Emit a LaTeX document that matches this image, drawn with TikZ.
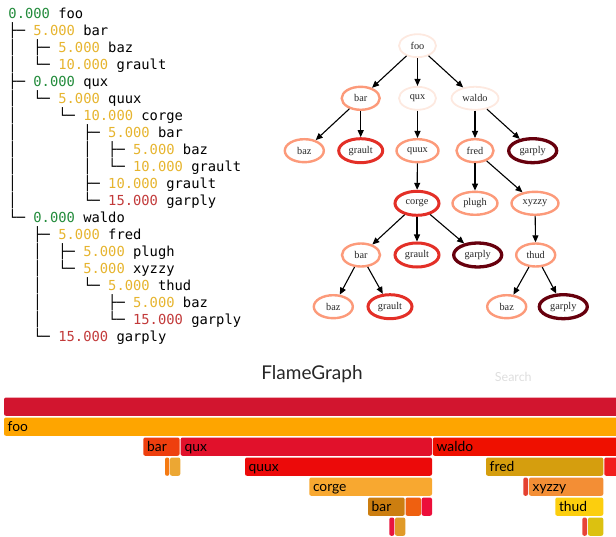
\documentclass[tikz,border=0pt]{standalone}
\usepackage{fontspec}
\usetikzlibrary{shapes.geometric,arrows.meta}
\newfontfamily\monof{DejaVu Sans Mono}
\newfontfamily\gvfont{Liberation Serif}
\newfontfamily\flamef{Lato}
\definecolor{tgreen}{HTML}{228B3B}
\definecolor{tgold}{HTML}{E6B42E}
\definecolor{tred}{HTML}{C23A3A}
\definecolor{gvA}{HTML}{FDE9E0}
\definecolor{gvB}{HTML}{FC9A7A}
\definecolor{gvC}{HTML}{E32F27}
\definecolor{gvD}{HTML}{67000D}
\newcommand\tgr[1]{\textcolor{tgreen}{#1}}
\newcommand\tyl[1]{\textcolor{tgold}{#1}}
\newcommand\trd[1]{\textcolor{tred}{#1}}
\begin{document}
\begin{tikzpicture}[x=1pt,y=-1pt,
  treeline/.style={anchor=base west, inner sep=0pt, font=\monof\fontsize{13.8}{17}\selectfont},
  gv/.style={ellipse, draw, inner sep=0pt, minimum height=23pt, font=\gvfont\fontsize{10.3}{12}\selectfont, text=black!85},
  cz/.style={draw=gvA, line width=1.8pt},
  cf/.style={draw=gvB, line width=2.4pt},
  ct/.style={draw=gvC, line width=3pt, minimum height=24pt},
  cx/.style={draw=gvD, line width=3.3pt, minimum height=24pt},
  edge/.style={-{Triangle[length=7pt,width=6pt]}, line width=1.1pt, black},
  fbar/.style={rounded corners=2pt},
  flab/.style={anchor=base west, inner sep=0pt, font=\flamef\fontsize{13.8}{15}\selectfont, text=black},
]
\useasboundingbox (0,0) rectangle (616,537);

% ---------- text tree ----------
\node[treeline] (t0)  at (8.3,18.5)  {\tgr{0.000}~foo};
\node[treeline] (t1)  at (8.3,35.5)  {├─~\tyl{5.000}~bar};
\node[treeline] (t2)  at (8.3,52.5)  {│~~├─~\tyl{5.000}~baz};
\node[treeline] (t3)  at (8.3,69.5)  {│~~└─~\tyl{10.000}~grault};
\node[treeline] (t4)  at (8.3,86.5)  {├─~\tgr{0.000}~qux};
\node[treeline] (t5)  at (8.3,103.5) {│~~└─~\tyl{5.000}~quux};
\node[treeline] (t6)  at (8.3,120.5) {│~~~~~└─~\tyl{10.000}~corge};
\node[treeline] (t7)  at (8.3,137.5) {│~~~~~~~~├─~\tyl{5.000}~bar};
\node[treeline] (t8)  at (8.3,154.5) {│~~~~~~~~│~~├─~\tyl{5.000}~baz};
\node[treeline] (t9)  at (8.3,171.5) {│~~~~~~~~│~~└─~\tyl{10.000}~grault};
\node[treeline] (t10) at (8.3,188.5) {│~~~~~~~~├─~\tyl{10.000}~grault};
\node[treeline] (t11) at (8.3,205.5) {│~~~~~~~~└─~\trd{15.000}~garply};
\node[treeline] (t12) at (8.3,222.5) {└─~\tgr{0.000}~waldo};
\node[treeline] (t13) at (8.3,239.5) {~~~├─~\tyl{5.000}~fred};
\node[treeline] (t14) at (8.3,256.5) {~~~│~~├─~\tyl{5.000}~plugh};
\node[treeline] (t15) at (8.3,273.5) {~~~│~~└─~\tyl{5.000}~xyzzy};
\node[treeline] (t16) at (8.3,290.5) {~~~│~~~~~└─~\tyl{5.000}~thud};
\node[treeline] (t17) at (8.3,307.5) {~~~│~~~~~~~~├─~\tyl{5.000}~baz};
\node[treeline] (t18) at (8.3,324.5) {~~~│~~~~~~~~└─~\trd{15.000}~garply};
\node[treeline] (t19) at (8.3,341.5) {~~~└─~\trd{15.000}~garply};

% ---------- graph ----------
\node[gv,cz,minimum width=37pt] (foo)   at (417.5,45.7)  {foo};
\node[gv,cf,minimum width=38pt] (bar1)  at (360.7,98.3)  {bar};
\node[gv,cz,minimum width=37pt] (qux)   at (417.5,98.3)  {qux};
\node[gv,cz,minimum width=47pt] (waldo) at (475,98.3)    {waldo};
\node[gv,cf,minimum width=39pt] (baz1)  at (304.3,150.7) {baz};
\node[gv,ct,minimum width=44pt] (gra1)  at (360.7,150.7) {grault};
\node[gv,cf,minimum width=42pt] (quux)  at (417.5,150.7) {quux};
\node[gv,cf,minimum width=37pt] (fred)  at (475,150.7)   {fred};
\node[gv,cx,minimum width=48pt] (gar1)  at (532.7,150.7) {garply};
\node[gv,ct,minimum width=44pt] (corge) at (417,203.3)   {corge};
\node[gv,cf,minimum width=45pt] (plugh) at (475,203.3)   {plugh};
\node[gv,cf,minimum width=47pt] (xyzzy) at (535,203.3)   {xyzzy};
\node[gv,cf,minimum width=38pt] (bar2)  at (361,255)     {bar};
\node[gv,ct,minimum width=44pt] (gra2)  at (417,255)     {grault};
\node[gv,cx,minimum width=48pt] (gar2)  at (477.7,255)   {garply};
\node[gv,cf,minimum width=39pt] (thud)  at (535.7,255)   {thud};
\node[gv,cf,minimum width=39pt] (baz2)  at (333.3,306.7) {baz};
\node[gv,ct,minimum width=44pt] (gra3)  at (390,306.7)   {grault};
\node[gv,cf,minimum width=39pt] (baz3)  at (506.7,306.7) {baz};
\node[gv,cx,minimum width=48pt] (gar3)  at (563.3,306.7) {garply};

\draw[edge] (foo) -- (bar1);
\draw[edge] (foo) -- (qux);
\draw[edge] (foo) -- (waldo);
\draw[edge] (bar1) -- (baz1);
\draw[edge] (bar1) -- (gra1);
\draw[edge] (qux) -- (quux);
\draw[edge] (waldo) -- (fred);
\draw[edge] (waldo) -- (gar1);
\draw[edge] (quux) -- (corge);
\draw[edge] (fred) -- (plugh);
\draw[edge] (fred) -- (xyzzy);
\draw[edge] (corge) -- (bar2);
\draw[edge] (corge) -- (gra2);
\draw[edge] (corge) -- (gar2);
\draw[edge] (xyzzy) -- (thud);
\draw[edge] (bar2) -- (baz2);
\draw[edge] (bar2) -- (gra3);
\draw[edge] (thud) -- (baz3);
\draw[edge] (thud) -- (gar3);

% ---------- flame graph ----------
\node[anchor=base, inner sep=0pt, font=\flamef\fontsize{19}{21}\selectfont, text=black!85] (title) at (312,379) {FlameGraph};
\node[anchor=base west, inner sep=0pt, font=\flamef\fontsize{12.5}{14}\selectfont, text=black!13] (search) at (494.7,381.5) {Search};

% row 0
\fill[fbar, fill={rgb,255:red,210;green,21;blue,47}] (4,397.5) rectangle (622,415.8);
% row 1
\fill[fbar, fill={rgb,255:red,254;green,165;blue,0}] (4,417.5) rectangle (622,435.8);
\node[flab] (lfoo) at (7.5,431) {foo};
% row 2
\fill[fbar, fill={rgb,255:red,238;green,63;blue,14}] (143.3,437.5) rectangle (179.6,455.8);
\fill[fbar, fill={rgb,255:red,225;green,17;blue,43}] (180.6,437.5) rectangle (432,455.8);
\fill[fbar, fill={rgb,255:red,239;green,16;blue,0}] (432.8,437.5) rectangle (622,455.8);
\node[flab] (lbar1) at (147,451) {bar};
\node[flab] (lqux) at (184.5,451) {qux};
\node[flab] (lwaldo) at (436.5,451) {waldo};
% row 3
\fill[fbar, fill={rgb,255:red,245;green,122;blue,18}] (165,457.5) rectangle (169.3,475.8);
\fill[fbar, fill={rgb,255:red,236;green,167;blue,51}] (170,457.5) rectangle (180.3,475.8);
\fill[fbar, fill={rgb,255:red,236;green,10;blue,10}] (245,457.5) rectangle (432,475.8);
\fill[fbar, fill={rgb,255:red,213;green,158;blue,14}] (486,457.5) rectangle (603.3,475.8);
\fill[fbar, fill={rgb,255:red,242;green,30;blue,30}] (604.3,457.5) rectangle (622,475.8);
\node[flab] (lquux) at (248.5,471) {quux};
\node[flab] (lfred) at (489.5,471) {fred};
% row 4
\fill[fbar, fill={rgb,255:red,248;green,168;blue,48}] (309.3,477.5) rectangle (432,495.8);
\fill[fbar, fill={rgb,255:red,229;green,65;blue,48}] (523.3,477.5) rectangle (528,495.8);
\fill[fbar, fill={rgb,255:red,243;green,142;blue,53}] (529,477.5) rectangle (603.3,495.8);
\node[flab] (lcorge) at (312.8,491) {corge};
\node[flab] (lxyzzy) at (532.5,491) {xyzzy};
% row 5
\fill[fbar, fill={rgb,255:red,204;green,126;blue,16}] (368,497.5) rectangle (404.7,515.8);
\fill[fbar, fill={rgb,255:red,239;green,96;blue,16}] (405.5,497.5) rectangle (421,515.8);
\fill[fbar, fill={rgb,255:red,236;green,14;blue,58}] (421.7,497.5) rectangle (432,515.8);
\fill[fbar, fill={rgb,255:red,252;green,206;blue,14}] (555.3,497.5) rectangle (603.3,515.8);
\node[flab] (lbar2) at (371.5,511) {bar};
\node[flab] (lthud) at (558.8,511) {thud};
% row 6
\fill[fbar, fill={rgb,255:red,232;green,20;blue,62}] (389.3,517.5) rectangle (394.3,535.8);
\fill[fbar, fill={rgb,255:red,224;green,154;blue,40}] (395,517.5) rectangle (405.3,535.8);
\fill[fbar, fill={rgb,255:red,232;green,68;blue,55}] (582.3,517.5) rectangle (587,535.8);
\fill[fbar, fill={rgb,255:red,220;green,193;blue,16}] (588,517.5) rectangle (603.3,535.8);
\end{tikzpicture}
\end{document}
